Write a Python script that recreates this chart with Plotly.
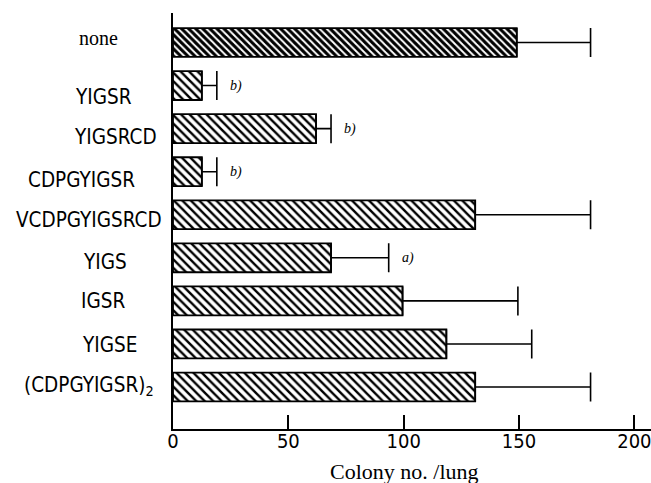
import plotly.graph_objects as go

# ---- data ----
categories = ["none", "YIGSR", "YIGSRCD", "CDPGYIGSR", "VCDPGYIGSRCD",
              "YIGS", "IGSR", "YIGSE", "(CDPGYIGSR)<sub>2</sub>"]
colony_mean = [149, 12.5, 62, 12.5, 131, 68.5, 99.5, 118.5, 131]
colony_err = [32, 6.5, 6.5, 6.5, 50, 25, 50, 37, 50]
significance = ["", "b)", "b)", "b)", "", "a)", "", "", ""]
x_ticks = [0, 50, 100, 150, 200]

# ---- layout helpers (positions / styles) ----
W, H = 651, 483
ML, MR, MT, MB = 173, 0, 13, 54
label_center_px = [98, 103, 115, 81.5, 89, 104.5, 103, 109.5, 89]
label_yshift = [5, -11, -8, -8, -5, -4, 0, -1.5, 1.5]
label_fonts = ["Liberation Serif, Times New Roman, serif"] + \
              ["DejaVu Sans Condensed, Liberation Sans, Arial, sans-serif"] * 8
label_sizes = [20] + [20.5] * 8
pat_size = [5] + [6] * 8
pat_solid = [0.6] + [0.4] * 8

idx = list(range(len(categories)))
plot_w = W - ML - MR
plot_h = H - MT - MB

fig = go.Figure()
fig.add_trace(go.Bar(
    y=idx, x=colony_mean, orientation="h", width=0.67,
    marker=dict(color="white",
                line=dict(color="black", width=1.8),
                pattern=dict(shape="\\", size=pat_size, solidity=pat_solid,
                             fgcolor="black", bgcolor="white", fillmode="replace")),
    error_x=dict(type="data", array=colony_err, arrayminus=[0] * len(colony_err),
                 symmetric=False, color="black", thickness=1.6, width=14.5),
    showlegend=False,
))

annotations = []
for i, (cat, cx, dy, fnt, fs) in enumerate(zip(categories, label_center_px, label_yshift,
                                               label_fonts, label_sizes)):
    annotations.append(dict(
        text=cat, xref="paper", yref="y", x=(cx - ML) / plot_w, y=i,
        xanchor="center", yanchor="middle", yshift=dy, showarrow=False,
        font=dict(family=fnt, size=fs, color="black")))

for i, s in enumerate(significance):
    if s:
        annotations.append(dict(
            text="<i>" + s + "</i>", xref="x", yref="y",
            x=colony_mean[i] + colony_err[i], y=i, xshift=11,
            xanchor="left", yanchor="middle", showarrow=False,
            font=dict(family="Liberation Serif, Times New Roman, serif", size=14, color="black")))

annotations.append(dict(
    text="Colony no. /lung", xref="paper", yref="paper",
    x=(404 - ML) / plot_w, y=-(471 - (H - MB)) / plot_h, xanchor="center", yanchor="middle",
    showarrow=False,
    font=dict(family="Liberation Serif, Times New Roman, serif", size=22, color="black")))

fig.update_layout(
    width=W, height=H,
    margin=dict(l=ML, r=MR, t=MT, b=MB, pad=0),
    paper_bgcolor="white", plot_bgcolor="white",
    annotations=annotations,
    xaxis=dict(range=[0, 207.2], tickvals=x_ticks, ticktext=[str(t) for t in x_ticks],
               ticks="inside", ticklen=14, tickwidth=2, tickcolor="black",
               showline=True, linewidth=2, linecolor="black",
               showgrid=False, zeroline=False, ticklabeloverflow="allow",
               ticklabelstandoff=-7,
               tickfont=dict(family="Liberation Sans Narrow, DejaVu Sans Condensed, sans-serif",
                             size=20, color="black")),
    yaxis=dict(range=[len(categories) - 1 + 0.975, -0.685], showticklabels=False,
               ticks="", showline=True, linewidth=2, linecolor="black",
               showgrid=False, zeroline=False),
)

fig.write_html("out.html")
